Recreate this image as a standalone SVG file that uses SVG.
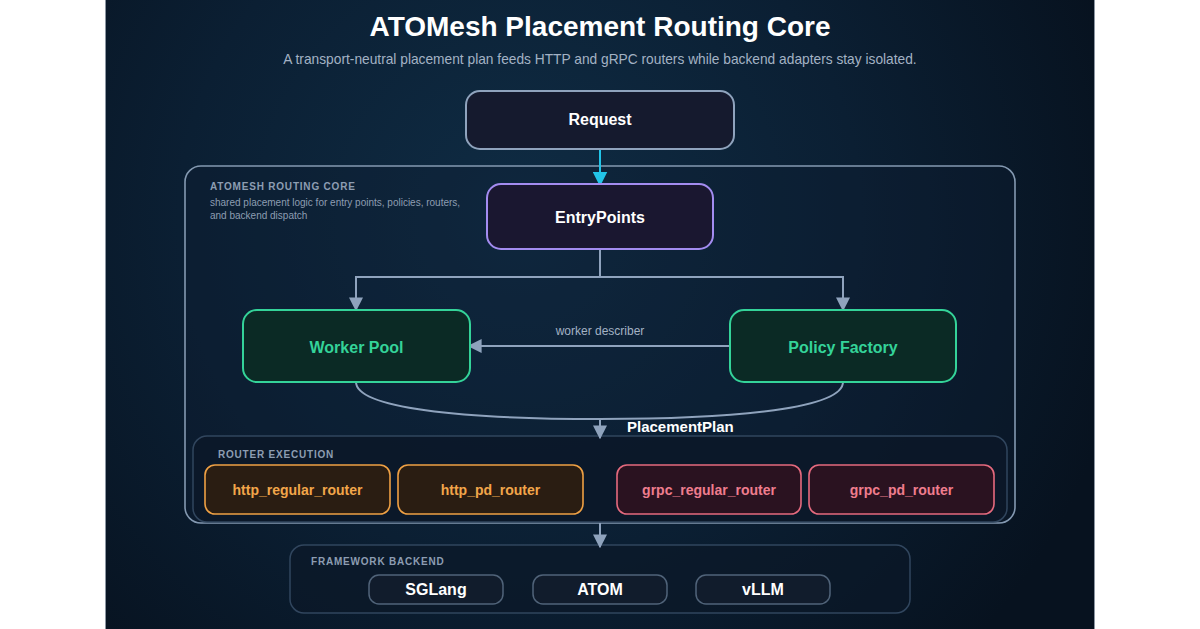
<svg xmlns="http://www.w3.org/2000/svg" width="1200" height="629" viewBox="0 0 1200 629">
<defs>
<radialGradient id="bg" cx="520" cy="220" r="620" gradientUnits="userSpaceOnUse">
<stop offset="0" stop-color="#0f2c44"/>
<stop offset="0.55" stop-color="#0b1f33"/>
<stop offset="1" stop-color="#07121f"/>
</radialGradient>
<marker id="ah" viewBox="0 0 10 10" refX="9" refY="5" markerWidth="14" markerHeight="14" markerUnits="userSpaceOnUse" orient="auto">
<path d="M0,0 L10,5 L0,10 z" fill="#8fa3bd"/>
</marker>
<marker id="ahc" viewBox="0 0 10 10" refX="9" refY="5" markerWidth="15" markerHeight="15" markerUnits="userSpaceOnUse" orient="auto">
<path d="M0,0 L10,5 L0,10 z" fill="#22c4e8"/>
</marker>
<style>
text{font-family:"Liberation Sans",Arial,sans-serif}
.node{stroke-width:2}
.lbl{font-weight:bold;font-size:16px;text-anchor:middle}
.cap{font-weight:bold;font-size:10px;letter-spacing:0.8px;fill:#8d9db2}
.small{font-size:10px;fill:#8d9db2}
.conn{fill:none;stroke:#8fa3bd;stroke-width:2}
.router{stroke-width:1.6}
.rt{font-weight:bold;font-size:14px;text-anchor:middle}
.http{fill:#2a1d12;stroke:#eea044}
.httpt{fill:#f2a64a}
.grpc{fill:#2a1220;stroke:#e56a7e}
.grpct{fill:#ef7d8e}
.be{fill:#111c2c;stroke:#506379;stroke-width:1.5}
</style>
</defs>
<rect x="0" y="0" width="1200" height="629" fill="#ffffff"/>
<rect x="105" y="0" width="990" height="629" fill="url(#bg)"/>
<line x1="105.5" y1="0" x2="105.5" y2="629" stroke="#8c96a2" stroke-width="1"/>
<line x1="1094.5" y1="0" x2="1094.5" y2="629" stroke="#8c96a2" stroke-width="1"/>

<text x="600" y="36" text-anchor="middle" font-size="28" font-weight="bold" fill="#ffffff">ATOMesh Placement Routing Core</text>
<text x="600" y="64" text-anchor="middle" font-size="13.75" fill="#a3b2c4">A transport-neutral placement plan feeds HTTP and gRPC routers while backend adapters stay isolated.</text>

<g id="routing-core">
<rect x="185" y="166" width="830" height="357" rx="16" fill="#0d1e31" fill-opacity="0.35" stroke="#8499b1" stroke-width="1.6"/>
<text x="210" y="190" class="cap">ATOMESH ROUTING CORE</text>
<text x="210" y="206" class="small">shared placement logic for entry points, policies, routers,</text>
<text x="210" y="219" class="small">and backend dispatch</text>
</g>

<g id="router-execution">
<rect x="193" y="436" width="814" height="86" rx="14" fill="#0c1828" fill-opacity="0.85" stroke="#31465e" stroke-width="1.5"/>
<text x="218" y="458" class="cap">ROUTER EXECUTION</text>
</g>

<g id="framework-backend">
<rect x="290" y="545" width="620" height="68" rx="14" fill="#0c1828" fill-opacity="0.7" stroke="#31465e" stroke-width="1.5"/>
<text x="311" y="565" class="cap">FRAMEWORK BACKEND</text>
</g>

<g id="connectors">
<line x1="600" y1="150" x2="600" y2="185" stroke="#22c4e8" stroke-width="2" marker-end="url(#ahc)"/>
<path class="conn" d="M600 249 V277 H356 V310" marker-end="url(#ah)"/>
<path class="conn" d="M600 277 H843 V310" marker-end="url(#ah)"/>
<line class="conn" x1="730" y1="346" x2="469" y2="346" marker-end="url(#ah)"/>
<text x="600" y="335" text-anchor="middle" font-size="12" fill="#a3b2c4">worker describer</text>
<path class="conn" d="M356 382 C356 408 460 419 600 419 C740 419 843 408 843 382"/>
<line class="conn" x1="600" y1="419" x2="600" y2="438" marker-end="url(#ah)"/>
<text x="627" y="432" font-size="15" font-weight="bold" fill="#ffffff">PlacementPlan</text>
<line class="conn" x1="600" y1="523" x2="600" y2="547" marker-end="url(#ah)"/>
</g>

<g id="request">
<rect x="466" y="91" width="268" height="58" rx="14" fill="#151a2e" stroke="#8fa3bd" class="node"/>
<text x="600" y="125" class="lbl" fill="#ffffff">Request</text>
</g>
<g id="entrypoints">
<rect x="487" y="184" width="226" height="65" rx="14" fill="#1a1730" stroke="#a38cf0" class="node"/>
<text x="600" y="223" class="lbl" fill="#ffffff">EntryPoints</text>
</g>
<g id="worker-pool">
<rect x="243" y="310" width="227" height="72" rx="14" fill="#0b2a25" stroke="#34d399" class="node"/>
<text x="356.5" y="353" class="lbl" fill="#34d399">Worker Pool</text>
</g>
<g id="policy-factory">
<rect x="730" y="310" width="226" height="72" rx="14" fill="#0b2a25" stroke="#34d399" class="node"/>
<text x="843" y="353" class="lbl" fill="#34d399">Policy Factory</text>
</g>

<g id="http-regular-router">
<rect x="205" y="465" width="185" height="49" rx="10" class="router http"/>
<text x="297.5" y="495" class="rt httpt">http_regular_router</text>
</g>
<g id="http-pd-router">
<rect x="398" y="465" width="185" height="49" rx="10" class="router http"/>
<text x="490.5" y="495" class="rt httpt">http_pd_router</text>
</g>
<g id="grpc-regular-router">
<rect x="617" y="465" width="184" height="49" rx="10" class="router grpc"/>
<text x="709" y="495" class="rt grpct">grpc_regular_router</text>
</g>
<g id="grpc-pd-router">
<rect x="809" y="465" width="185" height="49" rx="10" class="router grpc"/>
<text x="901.5" y="495" class="rt grpct">grpc_pd_router</text>
</g>

<g id="sglang">
<rect x="369" y="575" width="134" height="29" rx="10" class="be"/>
<text x="436" y="595" class="lbl" fill="#ffffff">SGLang</text>
</g>
<g id="atom">
<rect x="533" y="575" width="134" height="29" rx="10" class="be"/>
<text x="600" y="595" class="lbl" fill="#ffffff">ATOM</text>
</g>
<g id="vllm">
<rect x="696" y="575" width="134" height="29" rx="10" class="be"/>
<text x="763" y="595" class="lbl" fill="#ffffff">vLLM</text>
</g>
</svg>
